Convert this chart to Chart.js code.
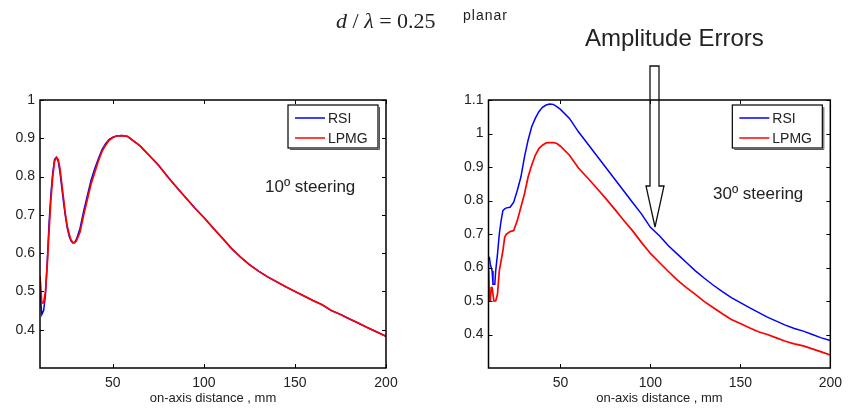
<!DOCTYPE html>
<html>
<head>
<meta charset="utf-8">
<script src="https://cdn.jsdelivr.net/npm/chart.js@4.4.1/dist/chart.umd.min.js"></script>
<style>
body{margin:0;background:#fff;}
#wrap{position:relative;width:849px;height:408px;overflow:hidden;font-family:"Liberation Sans",Arial,sans-serif;color:#222;}
canvas{position:absolute;top:0;}
.t{position:absolute;white-space:nowrap;line-height:1;}
</style>
</head>
<body>
<div id="wrap">
<canvas id="left" width="424" height="408" style="left:0"></canvas>
<canvas id="right" width="425" height="408" style="left:424px"></canvas>
<div class="t" style="left:336px;top:10px;font-family:'Liberation Serif',serif;font-size:22px"><i>d</i> / <i>λ</i> = 0.25</div>
<div class="t" style="left:463px;top:8px;font-size:14px;letter-spacing:1px">planar</div>
<div class="t" style="left:585px;top:26px;font-size:24px">Amplitude Errors</div>
<div class="t" style="left:265px;top:178px;font-size:17px">10º steering</div>
<div class="t" style="left:713px;top:185px;font-size:17px">30º steering</div>
<svg width="849" height="408" style="position:absolute;left:0;top:0">
  <path d="M650,66 L659,66 L659,186 L664,186 L655,227 L646,186 L650,186 Z" fill="none" stroke="#111" stroke-width="1.3"/>
</svg>
</div>
<script>
// left plot: 10 deg steering
const leftX = [10,11,12,13,14,15,16,17,18,19,20,21,22,23,24,25,26,27,28,29,30,32,34,36,38,40,42,44,46,48,50,52,55,58,60,
  65,70,75,80,85,90,95,100,105,110,115,120,125,130,135,140,145,150,155,160,165,170,175,180,185,190,195,200];
const leftRSI = [0.50,0.44,0.45,0.49,0.58,0.68,0.755,0.81,0.845,0.85,0.84,0.81,0.77,0.73,0.695,0.665,0.645,0.632,0.627,0.628,0.636,
  0.665,0.71,0.75,0.79,0.82,0.846,0.87,0.886,0.897,0.903,0.906,0.907,0.905,0.898,
  0.88,0.855,0.83,0.80,0.772,0.745,0.718,0.693,0.666,0.64,0.613,0.59,0.57,0.553,0.538,0.525,0.512,0.50,0.488,0.476,0.465,0.45,0.44,0.428,0.417,0.405,0.394,0.383];
const leftLPMG = [0.54,0.47,0.47,0.50,0.57,0.66,0.74,0.80,0.84,0.85,0.845,0.82,0.78,0.74,0.70,0.67,0.65,0.635,0.628,0.627,0.632,
  0.655,0.70,0.74,0.78,0.81,0.84,0.865,0.882,0.895,0.902,0.906,0.907,0.905,0.898,
  0.88,0.855,0.83,0.80,0.772,0.745,0.718,0.693,0.666,0.64,0.613,0.59,0.57,0.553,0.538,0.525,0.512,0.50,0.488,0.476,0.465,0.45,0.44,0.428,0.417,0.405,0.394,0.383];

// right plot: 30 deg steering
const rightX = [10,10.5,11,11.5,12,12.5,13,13.5,14,15,16,17,18,19,20,22,24,26,28,30,32,34,36,38,40,42,44,46,48,50,
  55,60,65,70,75,80,85,90,95,100,105,110,115,120,125,130,135,140,145,150,155,160,165,170,175,180,185,190,195,200];
const rightRSI = [0.63,0.63,0.61,0.60,0.59,0.55,0.55,0.55,0.59,0.64,0.70,0.74,0.77,0.775,0.778,0.78,0.795,0.83,0.87,0.93,0.98,1.02,1.045,1.065,1.078,1.085,1.088,1.087,1.08,1.072,
  1.045,1.005,0.97,0.935,0.90,0.865,0.83,0.795,0.76,0.72,0.695,0.665,0.64,0.615,0.59,0.568,0.547,0.528,0.51,0.495,0.48,0.466,0.452,0.44,0.428,0.418,0.41,0.40,0.39,0.382];
const rightLPMG = [0.61,0.50,0.50,0.54,0.54,0.54,0.50,0.50,0.50,0.52,0.59,0.62,0.65,0.69,0.70,0.707,0.71,0.74,0.78,0.82,0.87,0.905,0.935,0.955,0.965,0.972,0.973,0.973,0.97,0.962,
  0.935,0.897,0.868,0.838,0.807,0.775,0.742,0.71,0.675,0.642,0.615,0.588,0.562,0.54,0.52,0.498,0.48,0.462,0.445,0.433,0.42,0.408,0.40,0.39,0.38,0.372,0.366,0.357,0.348,0.339];

const xTicks = [50, 100, 150, 200];
const leftYTicks = [0.4, 0.5, 0.6, 0.7, 0.8, 0.9, 1];
const rightYTicks = [0.4, 0.5, 0.6, 0.7, 0.8, 0.9, 1, 1.1];
const seriesNames = ['RSI', 'LPMG'];
const seriesColors = ['#0000ff', '#ff0000'];

const FONT = '"Liberation Sans", Arial, sans-serif';

// frame, inward ticks and the inset legend, matlab style
const framePlugin = {
  id: 'frame',
  afterDraw(chart) {
    const {ctx, chartArea: a, scales: {x, y}} = chart;
    ctx.save();
    ctx.strokeStyle = '#000';
    ctx.lineWidth = 1;
    ctx.beginPath();
    x.ticks.forEach(t => {
      const px = Math.round(x.getPixelForValue(t.value)) + 0.5;
      ctx.moveTo(px, a.bottom); ctx.lineTo(px, a.bottom - 4);
      ctx.moveTo(px, a.top); ctx.lineTo(px, a.top + 4);
    });
    y.ticks.forEach(t => {
      const py = Math.round(y.getPixelForValue(t.value)) + 0.5;
      ctx.moveTo(a.left, py); ctx.lineTo(a.left + 4, py);
      ctx.moveTo(a.right, py); ctx.lineTo(a.right - 4, py);
    });
    ctx.stroke();
    ctx.lineWidth = 1.5;
    ctx.strokeRect(a.left, a.top, a.right - a.left, a.bottom - a.top);

    // legend box
    const bx = a.right - 98, by = a.top + 5, bw = 90, bh = 43;
    ctx.fillStyle = '#fff';
    ctx.fillRect(bx, by, bw, bh);
    ctx.lineWidth = 1.2;
    ctx.strokeRect(bx, by, bw, bh);
    ctx.lineWidth = 1;
    ctx.strokeStyle = '#555';
    ctx.beginPath();
    ctx.moveTo(bx + bw + 1.5, by + 2); ctx.lineTo(bx + bw + 1.5, by + bh + 1.5); ctx.lineTo(bx + 2, by + bh + 1.5);
    ctx.stroke();
    ctx.font = '14px ' + FONT;
    ctx.textBaseline = 'middle';
    seriesNames.forEach((name, i) => {
      const ly = by + 13 + i * 20;
      ctx.strokeStyle = seriesColors[i];
      ctx.lineWidth = 1.5;
      ctx.beginPath();
      ctx.moveTo(bx + 7, ly); ctx.lineTo(bx + 37, ly);
      ctx.stroke();
      ctx.fillStyle = '#222';
      ctx.fillText(name, bx + 40, ly + 1);
    });
    ctx.restore();
  }
};

function makeChart(id, xs, rsi, lpmg, yMax, yTicks, yWidth, padRight) {
  return new Chart(document.getElementById(id), {
    type: 'line',
    data: {
      datasets: [
        { label: seriesNames[0], data: xs.map((v, i) => ({x: v, y: rsi[i]})), borderColor: seriesColors[0], borderWidth: 1.5, order: 1 },
        { label: seriesNames[1], data: xs.map((v, i) => ({x: v, y: lpmg[i]})), borderColor: seriesColors[1], borderWidth: 1.7, order: 0 }
      ]
    },
    options: {
      responsive: false,
      animation: false,
      layout: { padding: { top: 100, right: padRight, left: 0, bottom: 0 } },
      elements: { point: { radius: 0 }, line: { tension: 0 } },
      plugins: { legend: { display: false }, tooltip: { enabled: false } },
      scales: {
        x: {
          type: 'linear', min: 10, max: 200,
          grid: { display: false, drawTicks: false },
          border: { display: false },
          afterBuildTicks: s => { s.ticks = xTicks.map(v => ({value: v})); },
          afterFit: s => { s.height = 40; },
          ticks: { padding: 7, color: '#222', font: { family: FONT, size: 14 }, callback: v => String(v), maxRotation: 0 },
          title: { display: true, text: 'on-axis distance , mm', color: '#222', font: { family: FONT, size: 13 }, padding: { top: 0, bottom: 2 } }
        },
        y: {
          type: 'linear', min: 0.3, max: yMax,
          grid: { display: false, drawTicks: false },
          border: { display: false },
          afterBuildTicks: s => { s.ticks = yTicks.map(v => ({value: v})); },
          afterFit: s => { s.width = yWidth; },
          ticks: { padding: 5, color: '#222', font: { family: FONT, size: 14 }, callback: v => String(v) }
        }
      }
    },
    plugins: [framePlugin]
  });
}

makeChart('left', leftX, leftRSI, leftLPMG, 1, leftYTicks, 40, 38);
makeChart('right', rightX, rightRSI, rightLPMG, 1.1, rightYTicks, 64.5, 14);
</script>
</body>
</html>
